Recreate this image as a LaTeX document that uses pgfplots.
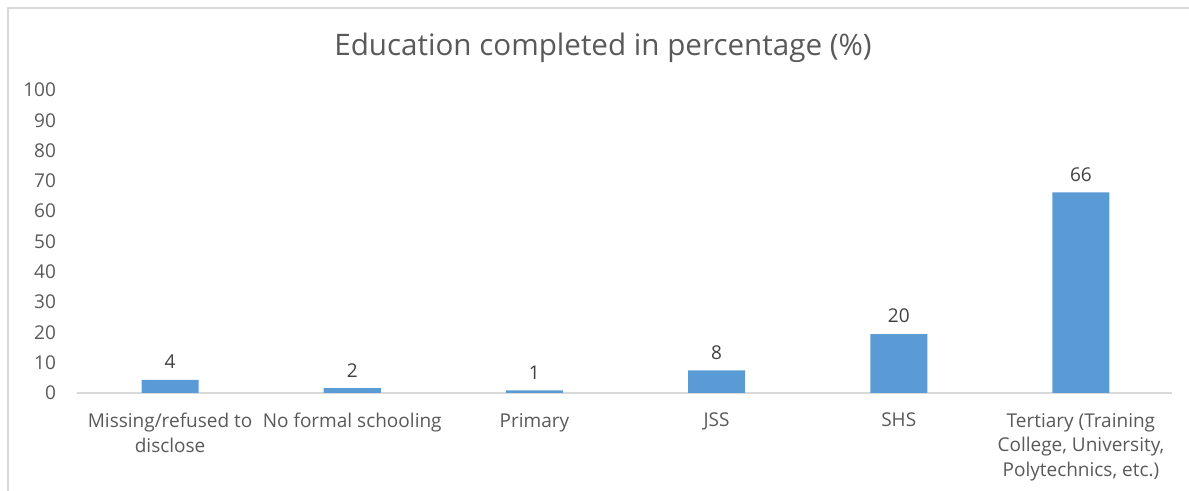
\documentclass[border=0pt]{standalone}
\usepackage{pgfplots}
\pgfplotsset{compat=1.18}
\usepackage{pgfplotstable}
\usepackage{fontspec}
\setmainfont{Open Sans}
\definecolor{barblue}{HTML}{5B9BD5}
\definecolor{txtgray}{HTML}{595959}
\definecolor{lblgray}{HTML}{404040}
\definecolor{linegray}{HTML}{D9D9D9}
\pgfplotstableread{
x y lab
0 4.3 4
1 1.6 2
2 0.9 1
3 7.5 8
4 19.4 20
5 66.2 66
}\datatable
\begin{document}
\begin{tikzpicture}[x=0.5pt,y=0.5pt]
\useasboundingbox (0,0) rectangle (1189,491);
\draw[linegray,line width=1pt] (8,0) -- (8,483) -- (1189,483);
\node[txtgray,font=\fontsize{14.8}{17}\selectfont] at (603,443) {Education completed in percentage (\%)};
\begin{axis}[
  at={(39.5pt,49pt)}, anchor=south west,
  width=546.5pt, height=151.5pt, scale only axis,
  xmin=-0.5, xmax=5.5, ymin=0, ymax=100,
  ytick={0,10,...,100},
  xtick={0,...,5},
  xticklabels={{Missing/refused to\\disclose},{No formal schooling},{Primary},{JSS},{SHS},{Tertiary (Training\\College, University,\\Polytechnics, etc.)}},
  axis line style={draw=none},
  major tick length=0pt,
  tick label style={txtgray,font=\fontsize{9.5}{12.3}\selectfont},
  /pgf/number format/assume math mode=true,
  yticklabel style={xshift=-8pt},
  xticklabel style={align=center,yshift=-6.5pt},
  clip=false,
]
\draw[linegray,line width=0.8pt] (axis cs:-0.51,0) -- (axis cs:5.5,0);
\addplot[ybar, bar width=28.5pt, fill=barblue, draw=none,
  nodes near coords, point meta=explicit symbolic,
  nodes near coords style={lblgray,font=\fontsize{9.5}{12}\selectfont, yshift=2pt}]
  table[x=x,y=y,meta=lab]{\datatable};
\end{axis}
\end{tikzpicture}
\end{document}
